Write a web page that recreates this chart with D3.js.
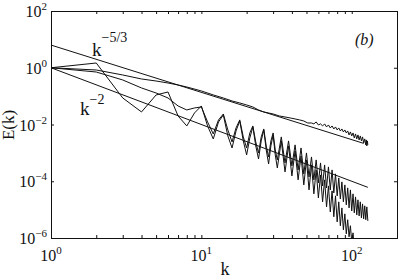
<!DOCTYPE html>
<html><head><meta charset="utf-8">
<script src="https://cdn.jsdelivr.net/npm/d3@7"></script>
<style>body{margin:0;background:#fff}svg{display:block}</style>
</head><body>
<svg id="chart" width="398" height="280"></svg>
<script>
// Smooth (top) spectrum
const kA = [1,2,3,4,5,6,7,8,10,12,14,16,18,20,22,24,26,28,30,33,36,39,42,45,48,51,54,56,58,60,62,64,66,68,70,72,74,76,78,80,82,84,86,88,90,92,94,96,98,100,102,104,106,108,110,112,114,116,118,120,122,124,125,126,127,128];
const EA = [1.0,0.834,0.556,0.402,0.341,0.290,0.247,0.210,0.152,0.110,0.0861,0.0675,0.0574,0.0488,0.0415,0.0325,0.0277,0.0255,0.0235,0.0200,0.0184,0.0170,0.0157,0.0145,0.0133,0.0113,0.0113,0.0105,0.0123,0.00964,0.0105,0.00889,0.0105,0.00820,0.00964,0.00756,0.00889,0.00697,0.00820,0.00643,0.00756,0.00593,0.00697,0.00547,0.00643,0.00504,0.00593,0.00429,0.00547,0.00395,0.00504,0.00336,0.00465,0.00310,0.00429,0.00286,0.00395,0.00264,0.00365,0.00224,0.00310,0.00191,0.00286,0.00176,0.00264,0.00191];

// Middle oscillating spectrum
const kB = [1,2,3,4,5,6,7,8,9,10,11,12,13,14,15,16,17,18,19,20,21,22,23,24,25,26,27,28,29,30,31,32,34,36,38,40,42,44,46,48,50,52,54,56,58,60,62,64,66,68,70,72,74,76,78,80,82,84,86,88,90,92,94,96,98,100,102,104,106,108,110,112,114,116,118,120,122,124,126,128];
const EB = [1.0,0.708,0.371,0.194,0.129,0.0861,0.0450,0.0325,0.0383,0.0415,0.0123,0.00465,0.0145,0.0235,0.00643,0.00243,0.00756,0.0145,0.00365,0.00149,0.00504,0.00889,0.00243,0.000995,0.00365,0.00697,0.00176,0.000720,0.00264,0.00504,0.00127,0.000565,
  0.00365,0.000443,0.00264,0.000347,0.00191,0.000251,0.00149,0.000182,0.000995,0.000142,0.000720,0.000112,0.000565,8.75e-5,0.000443,6.85e-5,0.000376,5.83e-5,0.000320,4.96e-5,0.000251,3.89e-5,0.000182,3.05e-5,0.000131,2.39e-5,9.48e-5,1.88e-5,7.43e-5,1.47e-5,5.83e-5,1.15e-5,4.96e-5,9.0e-6,3.59e-5,7.7e-6,2.81e-5,6.5e-6,2.21e-5,6.0e-6,1.88e-5,5.1e-6,1.59e-5,4.7e-6,1.36e-5,4.4e-6,1.25e-5,4.0e-6];

// Bottom oscillating spectrum
const kC = [1,2,3,4,5,6,7,8,9,10,11,12,13,14,15,16,17,18,19,20,21,22,23,24,25,26,27,28,29,30,31,32,34,36,38,40,42,44,46,48,50,52,54,56,58,60,62,64,66,68,70,72,74,76,78,80,82,84,86,88,90,92,94,96,98,100,102,104,106];
const EC = [1.0,1.47,0.0861,0.0277,0.110,0.140,0.0200,0.00889,0.0255,0.0450,0.00889,0.00310,0.0123,0.0217,0.00395,0.00149,0.00593,0.0133,0.00264,0.000847,0.00336,0.00820,0.00176,0.000612,0.00264,0.00643,0.00127,0.000408,0.00176,0.00429,0.000847,0.000295,
  0.00264,0.000213,0.00176,0.000154,0.00117,0.000112,0.000781,7.43e-5,0.000565,4.96e-5,0.000376,3.59e-5,0.000251,2.59e-5,0.000167,1.88e-5,0.000112,1.25e-5,6.85e-5,8.3e-6,4.57e-5,5.6e-6,3.05e-5,3.7e-6,1.88e-5,2.7e-6,1.15e-5,1.94e-6,7.1e-6,1.40e-6,4.4e-6,1.10e-6,2.7e-6,7.3e-7,1.52e-6,4.5e-7,8.6e-7];

// Reference power laws (end points)
const kRef53 = [1,120];
const ERef53 = [6.3,0.00216];
const kRef2 = [1,128];
const ERef2 = [1.0,6.1e-5];

// Tick labels
const xMajor = [1,10,100];
const xMajorExp = ["0","1","2"];
const xMinor = [2,3,4,5,6,7,8,9,20,30,40,50,60,70,80,90,200];
const yMajor = [1e2,1e0,1e-2,1e-4,1e-6];
const yMajorExp = ["2","0","\u22122","\u22124","\u22126"];

const svg = d3.select("#chart");
const L=51, R=397, T=11, B=238;
const x = d3.scaleLog().domain([1,200]).range([L,R]);
const y = d3.scaleLog().domain([1e-6,1e2]).range([B,T]);
const font = "'Liberation Serif','Times New Roman',serif";

svg.append("clipPath").attr("id","clip").append("rect")
  .attr("x",L).attr("y",T).attr("width",R-L).attr("height",B-T);

const line = d3.line().x(d=>x(d[0])).y(d=>y(d[1]));
const g = svg.append("g").attr("clip-path","url(#clip)");
function draw(ks, es){
  g.append("path").datum(ks.map((k,i)=>[k,es[i]]))
    .attr("d",line).attr("fill","none").attr("stroke","#111").attr("stroke-width",1)
    .attr("stroke-linejoin","round");
}
draw(kRef53, ERef53);
draw(kRef2, ERef2);
draw(kA, EA);
draw(kB, EB);
draw(kC, EC);

// axes (ticks inward, mirrored)
const ax = svg.append("g");
ax.append("g").attr("transform",`translate(0,${B})`).call(d3.axisBottom(x).tickValues(xMajor.concat(xMinor)).tickSize(-3).tickFormat(""));
ax.append("g").attr("transform",`translate(0,${T})`).call(d3.axisTop(x).tickValues(xMajor.concat(xMinor)).tickSize(-3).tickFormat(""));
ax.append("g").attr("transform",`translate(${L},0)`).call(d3.axisLeft(y).tickValues(yMajor).tickSize(-3).tickFormat(""));
ax.append("g").attr("transform",`translate(${R},0)`).call(d3.axisRight(y).tickValues(yMajor).tickSize(-3).tickFormat(""));
svg.selectAll(".domain").attr("stroke","#111");
svg.selectAll(".tick line").attr("stroke","#111");

// tick labels
xMajor.forEach((v,i)=>{
  const t = svg.append("text").attr("x",x(v)).attr("y",261).attr("text-anchor","middle")
    .attr("font-family",font).attr("font-size",16).attr("fill","#111");
  t.append("tspan").text("10");
  t.append("tspan").attr("dy",-7).attr("font-size",11).text(xMajorExp[i]);
});
yMajor.forEach((v,i)=>{
  const t = svg.append("text").attr("x",47).attr("y",y(v)+6).attr("text-anchor","end")
    .attr("font-family",font).attr("font-size",16).attr("fill","#111");
  t.append("tspan").text("10");
  t.append("tspan").attr("dy",-7).attr("font-size",11).text(yMajorExp[i]);
});

// axis titles
svg.append("text").attr("x",225).attr("y",275).attr("text-anchor","middle")
  .attr("font-family",font).attr("font-size",18).attr("fill","#111").text("k");
svg.append("text").attr("transform","translate(14,125) rotate(-90)").attr("text-anchor","middle")
  .attr("font-family",font).attr("font-size",17).attr("fill","#111").text("E(k)");

// annotations
const a1 = svg.append("text").attr("x",92).attr("y",56).attr("font-family",font).attr("font-size",19).attr("fill","#111");
a1.append("tspan").text("k");
a1.append("tspan").attr("dy",-14).attr("font-size",14).text("\u22125/3");
const a2 = svg.append("text").attr("x",80).attr("y",115).attr("font-family",font).attr("font-size",19).attr("fill","#111");
a2.append("tspan").text("k");
a2.append("tspan").attr("dy",-11).attr("font-size",14).text("\u22122");
svg.append("text").attr("x",355).attr("y",45).attr("font-family",font).attr("font-style","italic")
  .attr("font-size",16).attr("fill","#111").text("(b)");
</script>
</body></html>
